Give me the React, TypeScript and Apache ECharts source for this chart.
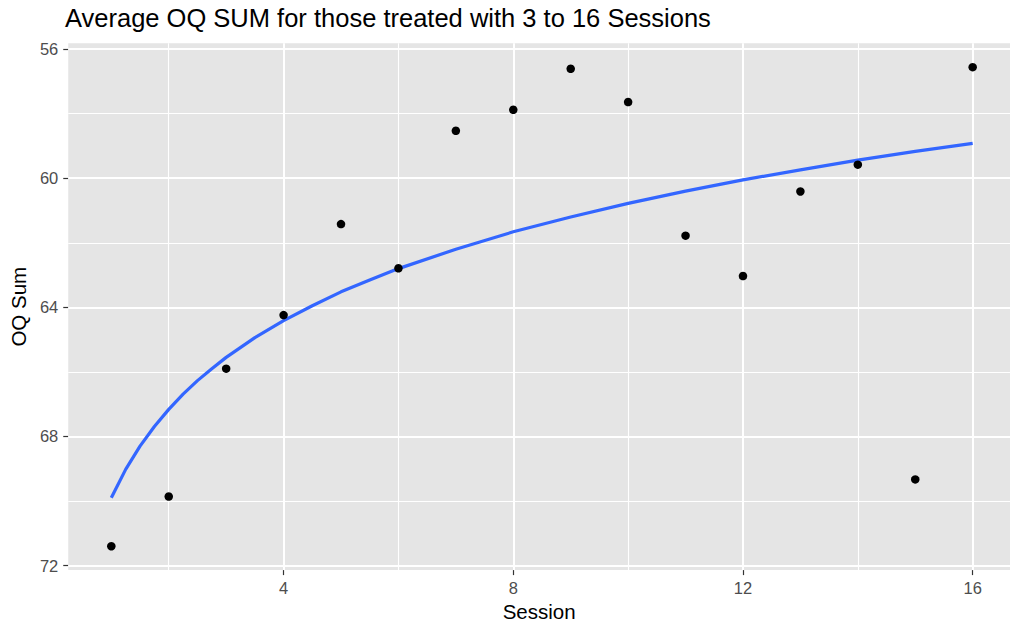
import React, { useEffect, useRef } from "react";
import * as echarts from "echarts";

const sessions = [1, 2, 3, 4, 5, 6, 7, 8, 9, 10, 11, 12, 13, 14, 15, 16];
const oqSum = [71.4, 69.86, 65.9, 64.24, 61.42, 62.79, 58.53, 57.88, 56.61, 57.64, 61.78, 63.03, 60.41, 59.58, 69.33, 56.56];

// fitted curve
const fitX = [1, 1.25, 1.5, 1.75, 2, 2.25, 2.5, 2.75, 3, 3.5, 4, 4.5, 5, 5.5, 6, 7, 8, 9, 10, 11, 12, 13, 14, 15, 16];
const fitY = [69.9, 69.02, 68.3, 67.69, 67.16, 66.69, 66.27, 65.9, 65.55, 64.94, 64.41, 63.95, 63.52, 63.15, 62.8, 62.2, 61.66, 61.2, 60.78, 60.4, 60.05, 59.74, 59.44, 59.17, 58.92];

const xMajor = [4, 8, 12, 16];
const xMinor = [2, 6, 10, 14];
const yMajor = [56, 60, 64, 68, 72];
const yMinor = [58, 62, 66, 70];

const xRange = [0.25, 16.65];
const yRange = [55.82, 72.14];

const title = "Average OQ SUM for those treated with 3 to 16 Sessions";
const xName = "Session";
const yName = "OQ Sum";

export default function App() {
  const ref = useRef<HTMLDivElement>(null);
  useEffect(() => {
    document.body.style.margin = "0";
    const chart = echarts.init(ref.current!, null, { renderer: "svg" });
    const font = "'Liberation Sans', Arial, Helvetica, sans-serif";
    const major = { color: "#FFFFFF", width: 2, type: "solid" as const };
    const minor = { color: "#FFFFFF", width: 1.1, type: "solid" as const };
    const gridLines = [
      ...xMinor.map((v) => ({ xAxis: v, lineStyle: minor })),
      ...yMinor.map((v) => ({ yAxis: v, lineStyle: minor })),
      ...xMajor.map((v) => ({ xAxis: v, lineStyle: major })),
      ...yMajor.map((v) => ({ yAxis: v, lineStyle: major })),
    ];
    chart.setOption({
      animation: false,
      textStyle: { fontFamily: font },
      grid: {
        left: 64.5,
        top: 43.3,
        right: 0,
        bottom: 56.3,
        show: true,
        backgroundColor: "#E5E5E5",
        borderWidth: 0,
      },
      graphic: [
        {
          type: "text",
          x: 65,
          y: 18,
          style: {
            text: title,
            fontSize: 25.5,
            fontFamily: font,
            fill: "#000000",
            verticalAlign: "middle",
            align: "left",
          },
        },
      ],
      xAxis: {
        type: "value",
        min: xRange[0],
        max: xRange[1],
        name: xName,
        nameLocation: "middle",
        nameGap: 29,
        nameTextStyle: { fontSize: 20.5, color: "#000000", fontFamily: font },
        axisLine: { show: false },
        splitLine: { show: false },
        axisTick: {
          show: true,
          length: 5,
          customValues: xMajor,
          lineStyle: { color: "#333333", width: 1.2 },
        },
        axisLabel: {
          customValues: xMajor,
          fontSize: 16.5,
          color: "#4D4D4D",
          margin: 9,
          fontFamily: font,
        },
      },
      yAxis: {
        type: "value",
        inverse: true,
        min: yRange[0],
        max: yRange[1],
        name: yName,
        nameLocation: "middle",
        nameGap: 36,
        nameRotate: 90,
        nameTextStyle: { fontSize: 20.5, color: "#000000", fontFamily: font },
        axisLine: { show: false },
        splitLine: { show: false },
        axisTick: {
          show: true,
          length: 5,
          customValues: yMajor,
          lineStyle: { color: "#333333", width: 1.2 },
        },
        axisLabel: {
          customValues: yMajor,
          fontSize: 16.5,
          color: "#4D4D4D",
          margin: 10,
          fontFamily: font,
        },
      },
      series: [
        {
          type: "line",
          name: "grid",
          data: [],
          z: 1,
          silent: true,
          markLine: {
            silent: true,
            z: 1,
            symbol: ["none", "none"],
            label: { show: false },
            emphasis: { disabled: true },
            animation: false,
            data: gridLines,
          },
        },
        {
          type: "line",
          name: "fit",
          data: fitX.map((x, i) => [x, fitY[i]]),
          smooth: false,
          showSymbol: false,
          symbol: "none",
          z: 3,
          lineStyle: { color: "#3366FF", width: 3.2, cap: "butt", join: "round" },
        },
        {
          type: "scatter",
          name: "points",
          data: sessions.map((x, i) => [x, oqSum[i]]),
          symbol: "circle",
          symbolSize: 8.5,
          z: 4,
          itemStyle: { color: "#000000", opacity: 1 },
        },
      ],
    });
    return () => chart.dispose();
  }, []);
  return <div ref={ref} style={{ width: 1010, height: 627 }} />;
}
